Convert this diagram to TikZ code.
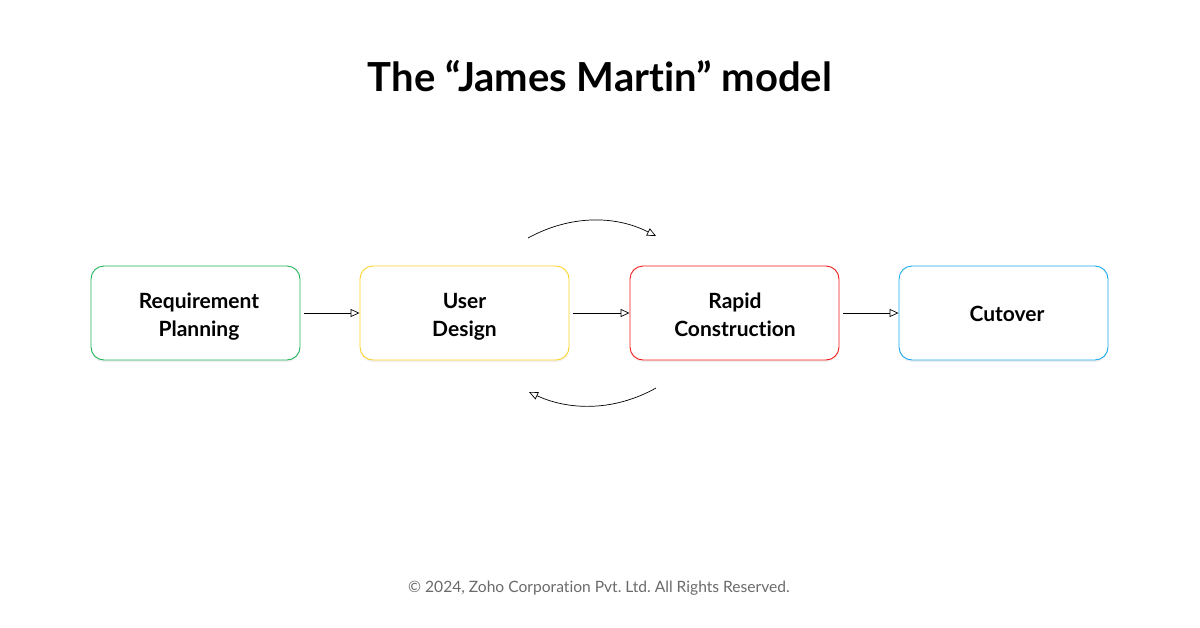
\documentclass[tikz,border=0pt]{standalone}
\usepackage{fontspec}
\setmainfont{Lato}[RawFeature={-liga;-dlig}]
\frenchspacing
\usetikzlibrary{arrows.meta,shadows}
\definecolor{cgreen}{HTML}{22B55A}
\definecolor{cyellow}{HTML}{FFD32A}
\definecolor{cred}{HTML}{F21B1B}
\definecolor{cblue}{HTML}{1AA8EE}
\definecolor{cfoot}{HTML}{6B6B6B}
\tikzset{
  stagebox/.style={draw=#1, line width=0.9pt, rounded corners=13pt, fill=white,
    minimum width=209pt, minimum height=94pt,
    drop shadow={shadow xshift=0pt, shadow yshift=-2pt, opacity=0.06, fill=black}},
  stagetext/.style={align=center, font=\fontsize{21}{28}\selectfont\bfseries},
  flow/.style={line width=0.7pt, -{Triangle[open, length=9pt, width=8pt]}},
}
\begin{document}
\begin{tikzpicture}[x=1pt,y=-1pt]
\useasboundingbox[fill=white] (0,0) rectangle (1200,627);
\node[font=\fontsize{40}{46}\selectfont\bfseries] (title) at (600,76) {The “James Martin” model};
\node[stagebox=cgreen] (req) at (195.5,313) {};
\node[stagebox=cyellow] (user) at (464.5,313) {};
\node[stagebox=cred] (rapid) at (734.5,313) {};
\node[stagebox=cblue] (cut) at (1003.5,313) {};
\node[stagetext] (reqt) at (199,317) {Requirement\\Planning};
\node[stagetext] (usert) at (464.5,317) {User\\Design};
\node[stagetext] (rapidt) at (735,315) {Rapid\\Construction};
\node[stagetext] (cutt) at (1007,314) {Cutover};
\draw[flow] ([xshift=4pt]req.east) -- (user.west);
\draw[flow] ([xshift=4pt]user.east) -- (rapid.west);
\draw[flow] ([xshift=4pt]rapid.east) -- (cut.west);
\coordinate (ta) at (528,238);
\coordinate (tb) at (656,236);
\coordinate (ba) at (656,388);
\coordinate (bb) at (529,392);
\draw[flow] (ta) .. controls (570,215) and (615,215) .. (tb);
\draw[flow] (ba) .. controls (615,411) and (570,411) .. (bb);
\node[font=\fontsize{15.6}{18}\selectfont, text=cfoot] (foot) at (599,588) {© 2024, Zoho Corporation Pvt. Ltd. All Rights Reserved.};
\end{tikzpicture}
\end{document}
